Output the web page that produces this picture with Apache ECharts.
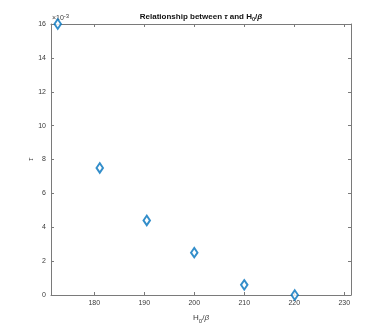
<!DOCTYPE html>
<html><head><meta charset="utf-8">
<script src="https://cdn.jsdelivr.net/npm/echarts@6/dist/echarts.min.js"></script>
<style>html,body{margin:0;padding:0;background:#fff}#c{width:388px;height:332px}</style>
</head><body><div id="c"></div>
<script>
const hOverBeta = [172.7, 181.1, 190.5, 200.0, 210.0, 220.1];
const tauValues = [0.0160, 0.0075, 0.0044, 0.0025, 0.0006, 0.0000];
const xTicks = [180, 190, 200, 210, 220, 230];
const yTicks = [0, 0.002, 0.004, 0.006, 0.008, 0.010, 0.012, 0.014, 0.016];

const FONT = 'Liberation Sans';
const lineCol = '#7a7a7a';
const txtCol = '#3a3a3a';
const chart = echarts.init(document.getElementById('c'));
const axisCommon = {
  axisLine: {show: true, onZero: false, lineStyle: {color: lineCol, width: 1}},
  splitLine: {show: false},
};
chart.setOption({
  animation: false,
  title: {
    text: 'Relationship between {i|τ} and H{sub|0}/{bi|β}',
    left: 196, top: 6, textAlign: 'center',
    textStyle: {
      fontFamily: FONT, fontSize: 8, fontWeight: 'bold', color: '#111',
      rich: {
        i: {fontFamily: FONT, fontSize: 8, fontStyle: 'italic', color: '#111'},
        bi: {fontFamily: FONT, fontSize: 8, fontStyle: 'italic', fontWeight: 'bold', color: '#111'},
        sub: {fontFamily: FONT, fontSize: 5.5, fontWeight: 'bold', color: '#111', padding: [5, 0, 0, 0]}
      }
    }
  },
  grid: {left: 51, right: 37, top: 24, bottom: 37, containLabel: false},
  xAxis: [{
    type: 'value', min: 171.35, max: 231.35, position: 'bottom',
    ...axisCommon,
    axisTick: {show: true, inside: true, length: 3, customValues: xTicks, lineStyle: {color: lineCol}},
    axisLabel: {customValues: xTicks, fontFamily: FONT, fontSize: 7, color: txtCol, margin: 5},
    name: 'H{sub|0}/{i|β}', nameLocation: 'middle', nameGap: 17, nameMoveOverlap: false,
    nameTextStyle: {fontFamily: FONT, fontSize: 8, color: txtCol, verticalAlign: 'top',
      rich: {sub: {fontFamily: FONT, fontSize: 6, color: txtCol, padding: [6, 0, 0, 0]},
             i: {fontFamily: FONT, fontSize: 8, fontStyle: 'italic', color: txtCol}}}
  }, {
    type: 'value', min: 171.35, max: 231.35, position: 'top',
    ...axisCommon,
    axisTick: {show: true, inside: true, length: 3, customValues: xTicks, lineStyle: {color: lineCol}},
    axisLabel: {show: false}
  }],
  yAxis: [{
    type: 'value', min: 0, max: 0.016, interval: 0.002, position: 'left',
    ...axisCommon,
    axisTick: {show: true, inside: true, length: 3, lineStyle: {color: lineCol}},
    axisLabel: {fontFamily: FONT, fontSize: 7, color: txtCol, margin: 5,
      formatter: v => String(Math.round(v * 1000))},
    name: 'τ', nameLocation: 'middle', nameGap: 16, nameRotate: 90, nameMoveOverlap: false,
    nameTextStyle: {fontFamily: FONT, fontSize: 8, fontStyle: 'italic', color: txtCol}
  }, {
    type: 'value', min: 0, max: 0.016, interval: 0.002, position: 'right',
    ...axisCommon,
    axisTick: {show: true, inside: true, length: 3, lineStyle: {color: lineCol}},
    axisLabel: {show: false}
  }],
  graphic: [{
    type: 'text', left: 52, top: 13,
    style: {text: '×10{sup|-3}', fontFamily: FONT, fontSize: 7, fill: txtCol,
      rich: {sup: {fontFamily: FONT, fontSize: 6, fill: txtCol, padding: [0, 0, 5, 0]}}}
  }],
  series: [{
    type: 'scatter', xAxisIndex: 0, yAxisIndex: 0,
    data: hOverBeta.map((x, i) => [x, tauValues[i]]),
    symbol: 'diamond', symbolSize: [6.5, 9.5],
    itemStyle: {color: '#fff', borderColor: '#0072BD', borderWidth: 2},
    clip: false, z: 5
  }]
});
</script></body></html>
